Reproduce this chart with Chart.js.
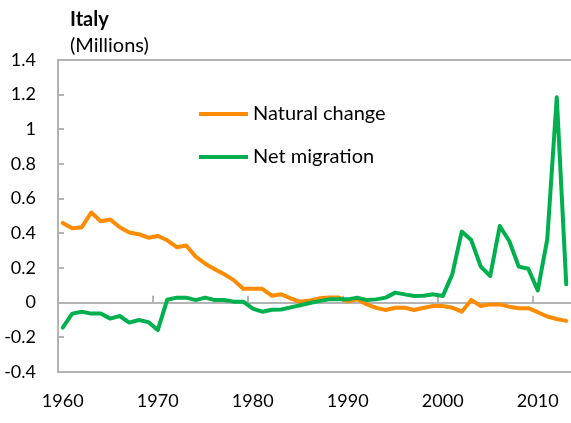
<!DOCTYPE html>
<html>
<head>
<meta charset="utf-8">
<script src="https://cdn.jsdelivr.net/npm/chart.js@4"></script>
<style>
  html, body { margin: 0; padding: 0; background: #fff; }
  #wrap { width: 571px; height: 423px; }
</style>
</head>
<body>
<div id="wrap"><canvas id="italyChart" width="571" height="423"></canvas></div>
<script>
// Data (millions)
const years = [1960, 1961, 1962, 1963, 1964, 1965, 1966, 1967, 1968, 1969,
               1970, 1971, 1972, 1973, 1974, 1975, 1976, 1977, 1978, 1979,
               1980, 1981, 1982, 1983, 1984, 1985, 1986, 1987, 1988, 1989,
               1990, 1991, 1992, 1993, 1994, 1995, 1996, 1997, 1998, 1999,
               2000, 2001, 2002, 2003, 2004, 2005, 2006, 2007, 2008, 2009,
               2010, 2011, 2012, 2013];

const naturalChange = [0.46, 0.43, 0.435, 0.52, 0.47, 0.48, 0.435, 0.405, 0.395, 0.375,
                       0.385, 0.36, 0.32, 0.33, 0.265, 0.225, 0.193, 0.164, 0.13, 0.08,
                       0.08, 0.08, 0.04, 0.048, 0.025, 0.005, 0.012, 0.025, 0.03, 0.03,
                       0.008, 0.02, -0.01, -0.03, -0.042, -0.029, -0.029, -0.042, -0.029, -0.019,
                       -0.019, -0.029, -0.052, 0.016, -0.019, -0.01, -0.01, -0.023, -0.032, -0.032,
                       -0.055, -0.08, -0.094, -0.105];

const netMigration = [-0.144, -0.063, -0.052, -0.063, -0.063, -0.092, -0.077, -0.115, -0.1, -0.112,
                      -0.158, 0.017, 0.029, 0.029, 0.015, 0.029, 0.015, 0.015, 0.006, 0.006,
                      -0.034, -0.052, -0.041, -0.039, -0.027, -0.015, -0.002, 0.009, 0.019, 0.019,
                      0.019, 0.029, 0.015, 0.019, 0.029, 0.058, 0.048, 0.038, 0.04, 0.048,
                      0.038, 0.163, 0.41, 0.361, 0.208, 0.154, 0.442, 0.356, 0.208, 0.196,
                      0.071, 0.365, 1.185, 0.106];

const yTicks = [-0.4, -0.2, 0, 0.2, 0.4, 0.6, 0.8, 1, 1.2, 1.4];

const axisGray = '#b4b4b4';
const textColor = '#000000';

Chart.defaults.font.family = 'Lato, "Open Sans", sans-serif';
Chart.defaults.color = textColor;

// Small tick marks: inward on the value axis, upward on the zero line
const tickMarks = {
    id: 'tickMarks',
    beforeDatasetsDraw(chart) {
        const { ctx, chartArea, scales } = chart;
        const x = scales.x, y = scales.y;
        const y0 = y.getPixelForValue(0);
        ctx.save();
        ctx.strokeStyle = axisGray;
        ctx.lineWidth = 2;
        ctx.beginPath();
        yTicks.forEach(v => {
            const py = Math.round(y.getPixelForValue(v));
            ctx.moveTo(chartArea.left, py);
            ctx.lineTo(chartArea.left + 6, py);
        });
        years.forEach((yr, i) => {
            if (i > 0 && yr % 10 === 0) {
                const px = Math.round((x.getPixelForValue(i - 1) + x.getPixelForValue(i)) / 2);
                ctx.moveTo(px, y0);
                ctx.lineTo(px, y0 - 7);
            }
        });
        ctx.stroke();
        ctx.restore();
    }
};

// Title and legend placed inside the picture like the original
const labelsPlugin = {
    id: 'labelsPlugin',
    afterDraw(chart) {
        const { ctx } = chart;
        ctx.save();
        ctx.fillStyle = textColor;
        ctx.textBaseline = 'middle';
        ctx.textAlign = 'left';
        ctx.font = 'bold 20px Lato, "Open Sans", sans-serif';
        ctx.fillText('Italy', 70, 20);
        ctx.font = '20px Lato, "Open Sans", sans-serif';
        ctx.fillText('(Millions)', 70, 46);

        const rows = [114, 157];
        chart.data.datasets.forEach((ds, i) => {
            const ly = rows[i];
            ctx.strokeStyle = ds.borderColor;
            ctx.lineWidth = 4;
            ctx.beginPath();
            ctx.moveTo(199, ly);
            ctx.lineTo(248, ly);
            ctx.stroke();
            ctx.fillStyle = textColor;
            ctx.font = '20px Lato, "Open Sans", sans-serif';
            ctx.fillText(ds.label, 253, ly);
        });
        ctx.restore();
    }
};

const isLine = v => [1.4, 0, -0.4].some(t => Math.abs(t - v) < 1e-6);

const config = {
    type: 'line',
    data: {
        labels: years,
        datasets: [
            {
                label: 'Natural change',
                data: naturalChange,
                borderColor: '#ff8c00',
                borderWidth: 4,
                order: 1
            },
            {
                label: 'Net migration',
                data: netMigration,
                borderColor: '#00b04f',
                borderWidth: 4,
                order: 0
            }
        ]
    },
    options: {
        responsive: false,
        animation: false,
        devicePixelRatio: 1,
        layout: { padding: { top: 60, right: 0, left: 0, bottom: 0 } },
        elements: {
            point: { radius: 0 },
            line: { tension: 0, borderJoinStyle: 'round', borderCapStyle: 'round' }
        },
        scales: {
            x: {
                type: 'category',
                offset: true,
                grid: { display: false, drawTicks: false },
                border: { display: false },
                ticks: {
                    autoSkip: false,
                    maxRotation: 0,
                    padding: 18,
                    font: { size: 18 },
                    callback: function(value, index) {
                        const yr = years[index];
                        return yr % 10 === 0 ? String(yr) : null;
                    }
                },
                afterFit: scale => {
                    scale.height = 51;
                    scale.paddingLeft = 0;
                    scale.paddingRight = 0;
                }
            },
            y: {
                min: -0.4,
                max: 1.4,
                afterBuildTicks: scale => {
                    scale.ticks = yTicks.map(v => ({ value: v }));
                },
                grid: {
                    drawTicks: false,
                    lineWidth: 2,
                    color: ctx => (ctx.tick && isLine(ctx.tick.value)) ? axisGray : 'rgba(0,0,0,0)'
                },
                border: { display: true, color: axisGray, width: 2 },
                ticks: {
                    padding: 22,
                    font: { size: 18 },
                    callback: v => String(Number(v.toFixed(1)))
                },
                afterFit: scale => { scale.width = 58; }
            }
        },
        plugins: {
            legend: { display: false },
            title: { display: false },
            tooltip: { enabled: false }
        }
    },
    plugins: [tickMarks, labelsPlugin]
};

new Chart(document.getElementById('italyChart').getContext('2d'), config);
</script>
</body>
</html>
